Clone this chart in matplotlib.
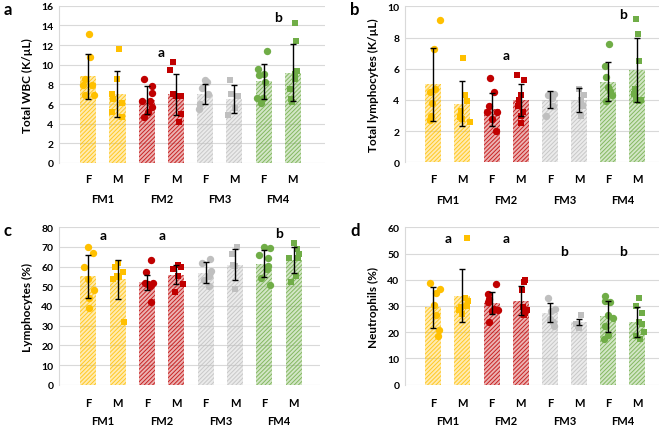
import numpy as np
import matplotlib
matplotlib.use('Agg')
from matplotlib import pyplot as plt
from matplotlib.transforms import blended_transform_factory

plt.rcParams['font.family'] = 'Lato'
plt.rcParams['font.weight'] = 'bold'
plt.rcParams['hatch.linewidth'] = 0.7

groups = ['FM1', 'FM2', 'FM3', 'FM4']
sexes = ['F', 'M']
colors = ['#FFC000', '#C00000', '#BFBFBF', '#70AD47']

# panel a: total WBC
wbc_mean = [8.8, 7.0, 6.4, 7.0, 7.0, 6.5, 8.3, 9.2]
wbc_sd = [2.3, 2.35, 1.4, 2.1, 1.0, 1.4, 1.8, 2.9]
wbc_pts = [[13.1, 10.8, 8.5, 7.9, 7.9, 6.9, 6.9],
           [11.6, 8.5, 7.0, 6.5, 6.1, 5.2, 4.7],
           [8.5, 7.8, 7.1, 6.3, 6.3, 5.7, 5.2, 4.7],
           [10.3, 9.5, 7.0, 6.8, 6.8, 5.0, 4.2],
           [8.4, 8.2, 7.6, 7.0, 6.0, 5.5],
           [8.4, 7.0, 6.8, 5.6, 4.9],
           [11.4, 9.6, 9.1, 9.0, 8.2, 6.6, 6.6, 6.1],
           [14.2, 12.4, 9.4, 9.1, 8.5, 7.5, 6.5, 6.2]]
wbc_jit = [[0.03, 0.05, -0.1, -0.18, 0.14, 0.2, -0.1],
           [0.06, 0, -0.19, -0.16, 0.16, -0.19, 0.14],
           [-0.09, 0.18, 0.17, -0.17, 0.1, 0.18, 0.05, -0.09],
           [-0.11, -0.2, -0.11, 0, 0.16, 0.16, 0.09],
           [0, 0.07, -0.11, 0.1, -0.18, -0.22],
           [-0.16, -0.11, 0.14, 0.02, -0.23],
           [0.13, -0.2, 0, -0.16, 0.06, -0.22, -0.02, -0.1],
           [0.06, 0.1, 0.13, 0.08, 0.08, -0.11, -0.05, -0.03]]

# panel b: total lymphocytes
lym_mean = [5.0, 3.75, 3.4, 4.0, 4.0, 4.0, 5.15, 5.9]
lym_sd = [2.35, 1.45, 1.05, 1.05, 0.55, 0.75, 1.25, 2.05]
lym_pts = [[9.15, 7.25, 4.7, 4.5, 3.8, 3.0, 2.7],
           [6.7, 4.3, 3.9, 3.3, 2.9, 2.8, 2.6],
           [5.4, 4.5, 3.6, 3.2, 3.2, 2.8, 2.0],
           [5.6, 5.3, 4.3, 4.0, 3.6, 3.2, 3.0, 2.5],
           [4.4, 4.3, 4.1, 3.6, 3.0],
           [4.7, 4.3, 4.0, 3.6, 3.0],
           [7.6, 6.2, 5.5, 4.8, 4.6, 4.3, 3.9],
           [9.2, 8.2, 6.5, 4.7, 4.4, 4.0, 3.9, 4.0]]
lym_jit = [[0.24, 0.03, 0.07, -0.1, -0.06, -0.08, -0.1],
           [0.03, 0.09, 0.16, -0.05, -0.07, 0, 0.25],
           [-0.06, 0.07, -0.1, -0.15, 0.18, 0, 0.17],
           [-0.13, 0.13, 0, -0.07, -0.08, 0.07, 0, 0],
           [0.16, -0.05, 0.07, 0.1, -0.14],
           [0, 0.16, 0.07, 0.14, 0.07],
           [0.02, -0.09, -0.07, 0, 0.08, 0.14, -0.06],
           [-0.03, 0.02, 0.05, -0.09, -0.11, -0.03, 0.08, 0.14]]

# panel c: lymphocytes (%)
lyp_mean = [55, 53.5, 52, 56, 57, 61, 61.5, 63.5]
lyp_sd = [11, 10, 4, 5, 5.5, 8, 7, 6.7]
lyp_pts = [[70, 67, 60, 53.5, 48, 44, 39],
           [62, 60, 57.5, 55.5, 54.5, 53.5, 32],
           [63.5, 57.5, 51.5, 51, 51.5, 50, 42],
           [61, 60, 59, 55, 51, 47],
           [64, 62, 58, 55.5, 53, 50],
           [70, 66.5, 61, 60.5, 48.5],
           [70, 69.5, 66, 64.5, 60.5, 59, 54, 50.5],
           [72, 69, 66.5, 64.5, 64.5, 55, 52]]
lyp_jit = [[0, 0.15, -0.14, 0, 0.2, 0.03, 0.02],
           [0, -0.1, 0.18, -0.03, 0.03, -0.16, 0.2],
           [0.15, -0.02, -0.08, 0.05, 0.22, 0.1, 0.13],
           [0.05, 0.16, -0.11, 0.06, 0.22, -0.03],
           [0.14, -0.11, 0.17, 0.1, -0.06, 0.1],
           [0.08, -0.11, -0.06, 0, 0],
           [0, 0.2, -0.18, 0.14, 0.14, 0.08, -0.11, 0.2],
           [0.03, 0.11, 0.17, -0.15, 0.14, 0.08, -0.09]]

# panel d: neutrophils (%)
neu_mean = [29.5, 34, 31, 32, 27.5, 24, 26, 24]
neu_sd = [7.7, 10, 4.2, 5.5, 3.5, 1.2, 6, 5.7]
neu_pts = [[38.8, 36.5, 35, 30.5, 26.5, 20.8, 18.5],
           [56, 33, 32, 30, 29.5, 28.5, 27],
           [38.5, 34.5, 32.5, 31.5, 29, 28.5, 28, 24],
           [40, 39, 36, 29.5, 28.5, 27.5, 26.5],
           [33, 29, 28, 25, 24, 22.5],
           [26.5, 23, 22.5, 21.5],
           [34, 32, 31.5, 26.5, 25.5, 22.5, 19, 17.5],
           [33, 30, 27.5, 24, 23, 20, 18.5, 17.5]]
neu_jit = [[-0.1, 0.23, 0.11, 0.02, 0.11, 0.2, 0.17],
           [0.15, 0.08, 0.2, 0.17, -0.06, -0.11, 0],
           [0.16, -0.11, -0.1, -0.13, 0.08, 0.22, 0, -0.1],
           [0.16, 0.11, 0.05, 0.07, 0.23, 0.14, 0.11],
           [-0.07, 0.18, 0.05, 0, 0.1, 0.14],
           [0.06, -0.09, -0.03, 0],
           [-0.1, -0.1, 0.08, 0, 0.16, -0.09, 0, -0.15],
           [0.05, -0.03, 0.16, 0.05, 0.16, 0.23, -0.03, 0.11]]

panels = [
    dict(tag='a', ylabel='Total WBC (K/µL)', mean=wbc_mean, sd=wbc_sd, pts=wbc_pts, jit=wbc_jit,
         ymax=16, step=2, letters=[(2.5, 11.3, 'a'), (6.5, 14.8, 'b')],
         rect=[59, 6.7, 325, 164], xlim=(-1.0, 8.1), lab_off=(16, 36)),
    dict(tag='b', ylabel='Total lymphocytes (K/µL)', mean=lym_mean, sd=lym_sd, pts=lym_pts, jit=lym_jit,
         ymax=10, step=2, letters=[(2.5, 6.9, 'a'), (6.5, 9.5, 'b')],
         rect=[405, 7.3, 659, 163.3], xlim=(-0.97, 7.75), lab_off=(16, 37)),
    dict(tag='c', ylabel='Lymphocytes (%)', mean=lyp_mean, sd=lyp_sd, pts=lyp_pts, jit=lyp_jit,
         ymax=80, step=10, letters=[(0.5, 76, 'a'), (2.5, 76, 'a'), (6.5, 77, 'b')],
         rect=[59, 228.3, 320, 385.7], xlim=(-1.0, 7.9), lab_off=(18, 36)),
    dict(tag='d', ylabel='Neutrophils (%)', mean=neu_mean, sd=neu_sd, pts=neu_pts, jit=neu_jit,
         ymax=60, step=10, letters=[(0.5, 56, 'a'), (2.5, 56, 'a'), (4.5, 51, 'b'), (6.5, 51, 'b')],
         rect=[405, 228.3, 659, 385.7], xlim=(-0.97, 7.75), lab_off=(18, 36)),
]

W, H = 667, 427
fig = plt.figure(figsize=(W / 100, H / 100), dpi=100)

x = np.arange(8)
for p in panels:
    l, t, r, b = p['rect']
    ax = fig.add_axes([l / W, 1 - b / H, (r - l) / W, (b - t) / H])
    ax.set_xlim(*p['xlim'])
    ax.set_ylim(0, p['ymax'])
    ax.set_yticks(np.arange(0, p['ymax'] + 0.1, p['step']))
    ax.grid(axis='y', color='#D9D9D9', linewidth=0.8)
    ax.set_axisbelow(True)
    for s in ['top', 'right', 'bottom']:
        ax.spines[s].set_visible(False)
    ax.spines['left'].set_color('#D9D9D9')
    ax.spines['left'].set_linewidth(0.8)
    ax.tick_params(axis='y', length=0, labelsize=7.5, pad=4)
    ax.set_xticks([])
    ax.set_ylabel(p['ylabel'], fontsize=8.5, fontweight='bold', labelpad=6)

    for i in range(8):
        c = colors[i // 2]
        ax.bar(x[i], p['mean'][i], width=0.55, color=c, alpha=0.3, linewidth=0, zorder=2)
        ax.bar(x[i], p['mean'][i], width=0.55, color='none', edgecolor=c,
               hatch='////////', linewidth=0, alpha=0.8, zorder=2)
        ax.errorbar(x[i], p['mean'][i], yerr=p['sd'][i], color='black', lw=1,
                    capsize=2, capthick=1, zorder=4)
        mk = 'o' if i % 2 == 0 else 's'
        ax.plot(x[i] + np.array(p['jit'][i]), p['pts'][i], mk, color=c,
                ms=5.3 if mk == 'o' else 5.0, mew=0, zorder=3, clip_on=False)

    for lx, ly, txt in p['letters']:
        ax.text(lx, ly, txt, ha='center', va='center', fontsize=10, fontweight='bold')

    # two-level category axis: sex under each bar, farm under each pair
    trans = blended_transform_factory(ax.transData, ax.transAxes)
    for i in range(8):
        ax.annotate(sexes[i % 2], xy=(x[i], 0), xycoords=trans,
                    xytext=(0, -p['lab_off'][0] * 0.72), textcoords='offset points',
                    ha='center', va='center', fontsize=8, fontweight='bold')
    for g, name in enumerate(groups):
        ax.annotate(name, xy=(2 * g + 0.5, 0), xycoords=trans,
                    xytext=(0, -p['lab_off'][1] * 0.72), textcoords='offset points',
                    ha='center', va='center', fontsize=8, fontweight='bold')

    fig.text((l - 55) / W, 1 - (t + 3) / H, p['tag'],
             fontsize=12, fontweight='bold', ha='left', va='center')

plt.savefig('out.png', dpi=100)
